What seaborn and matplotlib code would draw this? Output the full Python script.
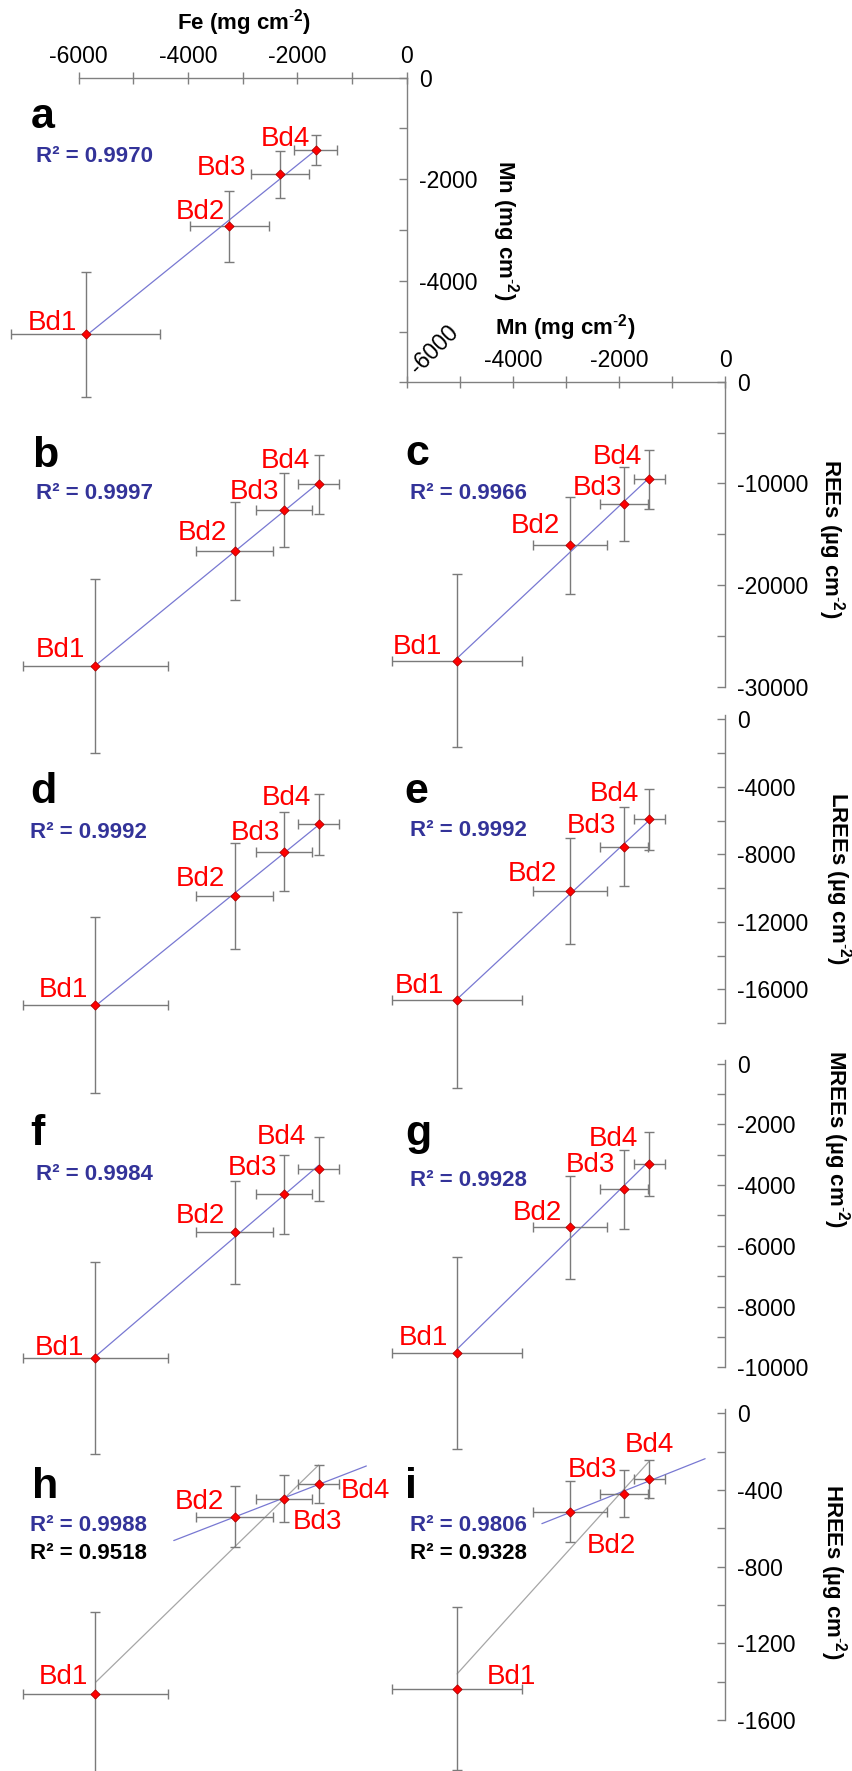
import numpy as np
import matplotlib
matplotlib.use("Agg")
import matplotlib.pyplot as plt
import seaborn as sns

# ---- data ----
SAMPLES = ["Bd1", "Bd2", "Bd3", "Bd4"]
FE = [-5868, -3243, -2316, -1664]
FE_ERR = [1360, 722, 536, 390]
MN = [-5055, -2925, -1905, -1425]
MN_ERR = [1225, 700, 458, 292]
REE = [-27435, -16095, -12060, -9585]
REE_ERR = [8520, 4800, 3640, 2910]
LREE = [-16634, -10175, -7550, -5926]
LREE_ERR = [5210, 3125, 2330, 1800]
MREE = [-9537, -5390, -4139, -3305]
MREE_ERR = [3155, 1705, 1310, 1053]
HREE = [-1437, -513, -419, -343]
HREE_ERR = [425, 160, 121, 98]

R2_ALL = {"a": "0.9970", "b": "0.9997", "c": "0.9966", "d": "0.9992", "e": "0.9992",
          "f": "0.9984", "g": "0.9928", "h": "0.9988", "i": "0.9806"}
R2_FULL = {"h": "0.9518", "i": "0.9328"}

# ---- style ----
W_PX, H_PX, DPI = 852, 1771, 100
AXIS_COLOR = "#808080"
ERR_COLOR = "#7a7a7a"
FIT_COLOR = "#7878d2"
FULL_FIT_COLOR = "#a6a6a6"
R2_COLOR = "#333399"
LABEL_RED = "#ff0000"
TICK_SIZE = 16.5
LABEL_SIZE = 20
TITLE_SIZE = 16
LETTER_SIZE = 31

# panel placement: px of value 0 on x, px per x unit, px of value 0 on y, px per y unit
LAYOUT = {
    "a": (406.7, 0.0547, 77.7, 0.05077),
    "b": (406.9, 0.05307, 387.0, 0.01017),
    "c": (725.0, 0.0530, 381.7, 0.01017),
    "d": (406.9, 0.05307, 724.3, 0.016875),
    "e": (725.0, 0.0530, 719.3, 0.016875),
    "f": (406.9, 0.05307, 1068.6, 0.030375),
    "g": (725.0, 0.0530, 1063.6, 0.030375),
    "h": (406.9, 0.05307, 1418.3, 0.19167),
    "i": (725.0, 0.0530, 1413.3, 0.19167),
}

# label offsets in pixels (dx, dy up, ha)
LABEL_OFFSETS = {
    "a": [(-9, 4, "right"), (-4, 7, "right"), (-34, -1, "right"), (-6, 4, "right")],
    "b": [(-10, 9, "right"), (-8, 11, "right"), (-5, 11, "right"), (-8, 16, "right")],
    "c": [(-15, 7, "right"), (-10, 12, "right"), (-2, 9, "right"), (-7, 15, "right")],
    "d": [(-7, 8, "right"), (-10, 10, "right"), (-4, 12, "right"), (-7, 19, "right")],
    "e": [(-13, 7, "right"), (-13, 10, "right"), (-8, 14, "right"), (-10, 18, "right")],
    "f": [(-11, 3, "right"), (-10, 9, "right"), (-7, 19, "right"), (-12, 25, "right")],
    "g": [(-9, 8, "right"), (-8, 7, "right"), (-9, 17, "right"), (-11, 18, "right")],
    "h": [(-7, 10, "right"), (-11, 8, "right"), (9, -30, "left"), (22, -14, "left")],
    "i": [(30, 5, "left"), (17, -41, "left"), (-7, 17, "right"), (0, 27, "center")],
}
LETTER_POS = {"a": (30.7, 128), "b": (31.7, 467.3), "c": (405, 465), "d": (30.7, 803.3),
              "e": (404, 803.3), "f": (30, 1145), "g": (405, 1145), "h": (31.7, 1498.3),
              "i": (405, 1498.3)}
R2_POS = {"a": (36, 162.3), "b": (36, 499.3), "c": (410, 499.3), "d": (30, 837.7),
          "e": (410, 836), "f": (36, 1180), "g": (410, 1186), "h": (30, 1530.7),
          "i": (410, 1530.7)}
R2_FULL_DY = 28.6
# backward / forward extension of the Bd2-Bd4 trend line (x units)
EXTEND = {"h": (1150, 900), "i": (530, 1050)}

sns.set_theme(style="white")
plt.rcParams.update({
    "font.family": ["Liberation Sans", "DejaVu Sans"],
    "axes.unicode_minus": False,
    "mathtext.fontset": "custom",
    "mathtext.rm": "Liberation Sans",
    "mathtext.bf": "Liberation Sans:bold",
})

fig = plt.figure(figsize=(W_PX / DPI, H_PX / DPI), dpi=DPI)
fig.patch.set_facecolor("white")


def add_frame(layout, xlim, ylim):
    x0, xs, y0, ys = layout
    left = x0 + xlim[0] * xs
    right = x0 + xlim[1] * xs
    top = y0 - ylim[1] * ys
    bottom = y0 - ylim[0] * ys
    ax = fig.add_axes([left / W_PX, 1 - bottom / H_PX, (right - left) / W_PX, (bottom - top) / H_PX])
    ax.patch.set_alpha(0)
    for s in ax.spines.values():
        s.set_visible(False)
        s.set_color(AXIS_COLOR)
        s.set_linewidth(1)
    ax.set_xlim(xlim)
    ax.set_ylim(ylim)
    return ax


def fig_text(x, y, s, **kw):
    fig.text(x / W_PX, 1 - y / H_PX, s, **kw)


def right_axis(ax, major, minor):
    ax.spines["right"].set_visible(True)
    ax.yaxis.tick_right()
    ax.set_yticks(major)
    ax.set_yticklabels([f"{v:d}" for v in major])
    ax.set_yticks(minor, minor=True)
    ax.tick_params(axis="y", which="both", right=True, left=False, labelright=True,
                   labelleft=False, direction="in", length=6, width=1, color=AXIS_COLOR,
                   labelcolor="black", labelsize=TICK_SIZE, pad=9)


def top_axis(ax, major, minor):
    ax.spines["top"].set_visible(True)
    ax.xaxis.tick_top()
    ax.set_xticks(major)
    ax.set_xticklabels([f"{v:d}" for v in major])
    ax.set_xticks(minor, minor=True)
    ax.tick_params(axis="x", which="both", top=True, bottom=False, labeltop=True,
                   labelbottom=False, direction="inout", length=8, width=1, color=AXIS_COLOR,
                   labelcolor="black", labelsize=TICK_SIZE, pad=3)


def hide_x(ax):
    ax.tick_params(axis="x", which="both", bottom=False, top=False,
                   labelbottom=False, labeltop=False)


# ---- visible axes ----
ax_fe = add_frame(LAYOUT["a"], (-6000, 0), (-6000, 0))
top_axis(ax_fe, [-6000, -4000, -2000, 0], [-5000, -3000, -1000])
right_axis(ax_fe, [0, -2000, -4000], [-1000, -3000, -5000, -6000])

ax_mn = add_frame(LAYOUT["c"], (-6000, 0), (-30000, 0))
top_axis(ax_mn, [-4000, -2000, 0], [-6000, -5000, -3000, -1000])
right_axis(ax_mn, [0, -10000, -20000, -30000], [-5000, -15000, -25000])
ax_mn.annotate("-6000", xy=(-6000, 0), xytext=(11, 7), textcoords="offset pixels",
               rotation=45, rotation_mode="anchor", ha="left", va="baseline",
               fontsize=TICK_SIZE, color="black", annotation_clip=False)

ax_l = add_frame(LAYOUT["e"], (-6000, 0), (-18000, 240))
hide_x(ax_l)
right_axis(ax_l, [0, -4000, -8000, -12000, -16000], [-2000, -6000, -10000, -14000, -18000])

ax_m = add_frame(LAYOUT["g"], (-6000, 0), (-10000, 130))
hide_x(ax_m)
right_axis(ax_m, [0, -2000, -4000, -6000, -8000, -10000], [-1000, -3000, -5000, -7000, -9000])

ax_h = add_frame(LAYOUT["i"], (-6000, 0), (-1600, 20))
hide_x(ax_h)
right_axis(ax_h, [0, -400, -800, -1200, -1600], [-200, -600, -1000, -1400])

# axis titles
SUP = r"$^{\mathbf{\text{-}2}}$"
title_kw = dict(fontsize=TITLE_SIZE, fontweight="bold", color="black", ha="center", va="center")
fig_text(244.5, 22.7, "Fe (mg cm" + SUP + ")", **title_kw)
fig_text(505.5, 230.5, "Mn (mg cm" + SUP + ")", rotation=270, **title_kw)
fig_text(565, 328, "Mn (mg cm" + SUP + ")", **title_kw)
fig_text(831.7, 538.5, "REEs (\u00b5g cm" + SUP + ")", rotation=270, **title_kw)
fig_text(838.3, 878, "LREEs (\u00b5g cm" + SUP + ")", rotation=270, **title_kw)
fig_text(836, 1139, "MREEs (\u00b5g cm" + SUP + ")", rotation=270, **title_kw)
fig_text(833, 1571.7, "HREEs (\u00b5g cm" + SUP + ")", rotation=270, **title_kw)

# ---- data panels ----
PANELS = [
    ("a", FE, FE_ERR, MN, MN_ERR, (-7000, 600)),
    ("b", FE, FE_ERR, REE, REE_ERR, (-38000, 1000)),
    ("c", MN, MN_ERR, REE, REE_ERR, (-38000, 1000)),
    ("d", FE, FE_ERR, LREE, LREE_ERR, (-23000, 600)),
    ("e", MN, MN_ERR, LREE, LREE_ERR, (-23000, 600)),
    ("f", FE, FE_ERR, MREE, MREE_ERR, (-13500, 400)),
    ("g", MN, MN_ERR, MREE, MREE_ERR, (-13500, 400)),
    ("h", FE, FE_ERR, HREE, HREE_ERR, (-1950, 50)),
    ("i", MN, MN_ERR, HREE, HREE_ERR, (-1950, 50)),
]

for key, xv, xe, yv, ye, ylim in PANELS:
    x = np.asarray(xv, float)
    y = np.asarray(yv, float)
    ax = add_frame(LAYOUT[key], (-8000, 600), ylim)
    ax.set_axis_off()

    if key in EXTEND:
        # regression through all four samples (grey) and through Bd2-Bd4 (blue)
        sns.regplot(x=x, y=y, ax=ax, scatter=False, ci=None, truncate=True,
                    line_kws=dict(color=FULL_FIT_COLOR, lw=0.9, zorder=2))
        slope, icpt = np.polyfit(x[1:], y[1:], 1)
        back, fwd = EXTEND[key]
        xs = np.array([x[1:].min() - back, x[1:].max() + fwd])
        ax.plot(xs, slope * xs + icpt, color=FIT_COLOR, lw=0.9, zorder=2)
    else:
        sns.regplot(x=x, y=y, ax=ax, scatter=False, ci=None, truncate=True,
                    line_kws=dict(color=FIT_COLOR, lw=0.9, zorder=2))

    ax.errorbar(x, y, xerr=xe, yerr=ye, fmt="none", ecolor=ERR_COLOR, elinewidth=1,
                capsize=3.5, capthick=1, zorder=3)
    sns.scatterplot(x=x, y=y, ax=ax, marker="D", s=22, color="#ff0000",
                    edgecolor="#b00000", linewidth=0.6, zorder=5, legend=False)

    for (name, xi, yi), (dx, dy, ha) in zip(zip(SAMPLES, x, y), LABEL_OFFSETS[key]):
        ax.annotate(name, xy=(xi, yi), xytext=(dx, dy), textcoords="offset pixels",
                    ha=ha, va="baseline", color=LABEL_RED, fontsize=LABEL_SIZE,
                    annotation_clip=False)

    ax.set_xlim(-8000, 600)
    ax.set_ylim(ylim)

    lx, ly = LETTER_POS[key]
    fig_text(lx, ly, key, fontsize=LETTER_SIZE, fontweight="bold", color="black",
             ha="left", va="baseline")
    rx, ry = R2_POS[key]
    fig_text(rx, ry, f"R\u00b2 = {R2_ALL[key]}", fontsize=TITLE_SIZE, fontweight="bold",
             color=R2_COLOR, ha="left", va="baseline")
    if key in R2_FULL:
        fig_text(rx, ry + R2_FULL_DY, f"R\u00b2 = {R2_FULL[key]}", fontsize=TITLE_SIZE,
                 fontweight="bold", color="black", ha="left", va="baseline")

fig.savefig("out.png", dpi=DPI, facecolor="white")
